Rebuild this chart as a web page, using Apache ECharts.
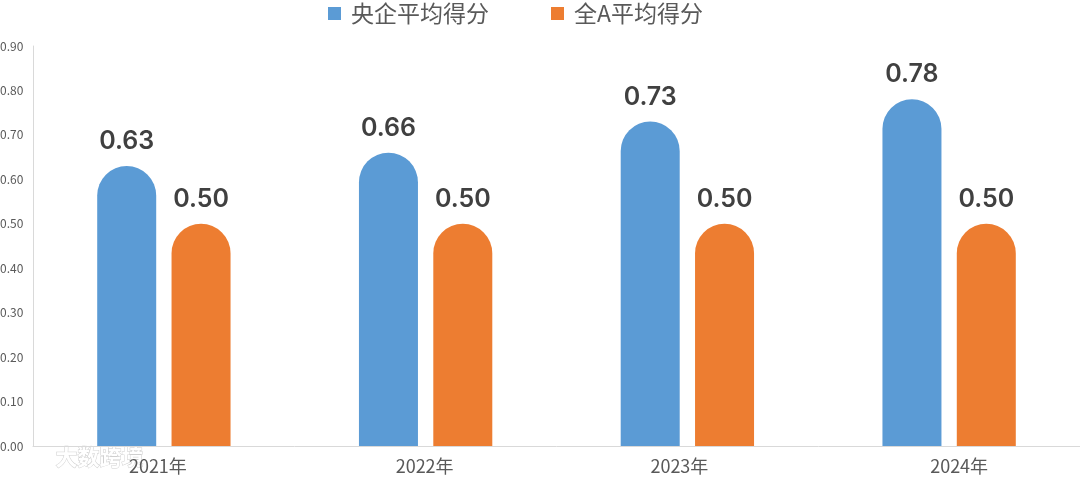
<!DOCTYPE html>
<html><head><meta charset="utf-8">
<script src="https://cdn.jsdelivr.net/npm/echarts@6/dist/echarts.min.js"></script>
<style>html,body{margin:0;padding:0;background:#fff}#c{width:1080px;height:479px}</style>
</head><body><div id="c"></div>
<script>
const categories = ['2021年','2022年','2023年','2024年'];
const seriesNames = ['央企平均得分','全A平均得分'];
const soeScores = [0.63,0.66,0.73,0.78];
const allAScores = [0.50,0.50,0.50,0.50];
const yTicks = {min:0,max:0.9,interval:0.1};

const chart = echarts.init(document.getElementById('c'));
const font = '"Noto Sans CJK SC","Noto Sans",sans-serif';
const label = {show:true,position:'top',distance:12,color:'#404040',fontSize:25,fontWeight:600,fontFamily:'Inter,"Noto Sans",sans-serif',formatter:p=>p.value.toFixed(2)};
// small horizontal nudges of the category labels as seen in the reference
const labelShift = [-6,-1,-8,10];
const rich = {};
labelShift.forEach((s,i)=>{
  rich['c'+i] = {fontSize:18,color:'#595959',fontFamily:font,
    padding: s>=0 ? [0,0,0,2*s] : [0,-2*s,0,0]};
});
chart.setOption({
  animation:false,
  legend:{top:2,left:328,padding:0,itemWidth:13,itemHeight:13,itemGap:62,icon:'rect',
    textStyle:{fontSize:23,color:'#595959',fontFamily:font,padding:[0,0,0,5]},data:seriesNames},
  grid:{left:33,right:0,top:46,bottom:33,containLabel:false,outerBoundsMode:'none'},
  xAxis:{type:'category',data:categories,
    axisLine:{lineStyle:{color:'#d9d9d9'}},axisTick:{show:false},
    axisLabel:{fontSize:18,color:'#595959',margin:11,fontFamily:font,
      formatter:(v,i)=>'{c'+i+'|'+v+'}',rich:rich}},
  yAxis:{type:'value',min:yTicks.min,max:yTicks.max,interval:yTicks.interval,
    axisLine:{show:true,lineStyle:{color:'#d9d9d9'}},axisTick:{show:false},splitLine:{show:false},
    axisLabel:{fontSize:12,color:'#595959',margin:33,align:'left',
      formatter:v=>v.toFixed(2),fontFamily:font}},
  graphic:[{type:'text',left:55,top:445,style:{text:'大数跨境',fontSize:22,fontWeight:'bold',fill:'#fff',stroke:'#cfcfcf',lineWidth:1,fontFamily:font}}],
  series:[
    {name:seriesNames[0],type:'bar',data:soeScores,barWidth:59,barGap:'26%',
     itemStyle:{color:'#5B9BD5',borderRadius:[30,30,0,0]},label:label},
    {name:seriesNames[1],type:'bar',data:allAScores,barWidth:59,
     itemStyle:{color:'#ED7D31',borderRadius:[30,30,0,0]},label:label}
  ]
});
</script></body></html>
